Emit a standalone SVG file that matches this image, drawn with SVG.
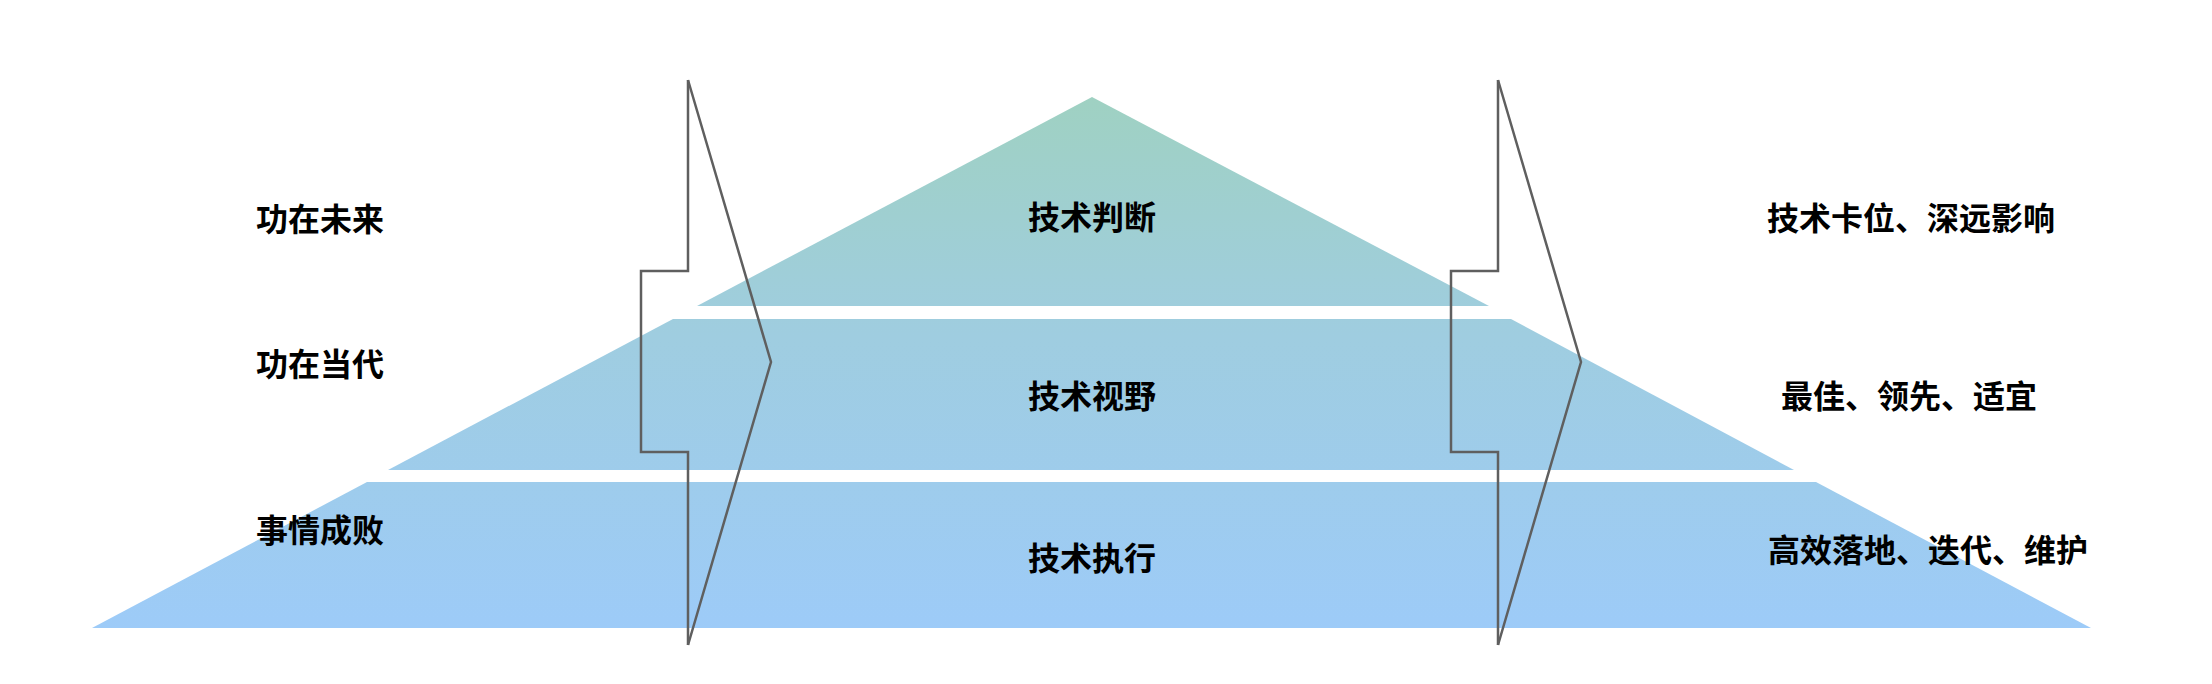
<svg xmlns="http://www.w3.org/2000/svg" width="2212" height="684" viewBox="0 0 2212 684">
<defs>
<linearGradient id="pg" gradientUnits="userSpaceOnUse" x1="0" y1="97" x2="0" y2="628">
<stop offset="0" stop-color="#9fd1c2"/>
<stop offset="0.45" stop-color="#9fcde0"/>
<stop offset="1" stop-color="#9dcbf8"/>
</linearGradient>
<style>
.lvl{fill:url(#pg);}
.t{font-family:"Noto Sans CJK SC","Noto Sans",sans-serif;font-weight:bold;font-size:32px;fill:#000;text-anchor:middle;}
.br{fill:none;stroke:#5f5f5f;stroke-width:2.5;stroke-linejoin:miter;}
</style>
</defs>
<rect width="2212" height="684" fill="#ffffff"/>
<g id="level-top">
<polygon class="lvl" points="1092,97 1489,306 697,306"/>
<text class="t" x="1092" y="229">技术判断</text>
</g>
<g id="level-middle">
<polygon class="lvl" points="673,319 1511,319 1794,470 388,470"/>
<text class="t" x="1092" y="408">技术视野</text>
</g>
<g id="level-bottom">
<polygon class="lvl" points="367,482 1816,482 2091,628 92,628"/>
<text class="t" x="1092" y="570">技术执行</text>
</g>
<g id="left-labels">
<text class="t" x="320" y="231">功在未来</text>
<text class="t" x="320" y="376">功在当代</text>
<text class="t" x="320" y="542">事情成败</text>
</g>
<g id="right-labels">
<text class="t" x="1911" y="230">技术卡位、深远影响</text>
<text class="t" x="1909" y="408">最佳、领先、适宜</text>
<text class="t" x="1928" y="562">高效落地、迭代、维护</text>
</g>
<g id="connectors">
<polyline class="br" points="688,80 688,271 641,271 641,452 688,452 688,645"/>
<polyline class="br" points="688,80 771,362 688,645"/>
<polyline class="br" points="1498,80 1498,271 1451,271 1451,452 1498,452 1498,645"/>
<polyline class="br" points="1498,80 1581,362 1498,645"/>
</g>
</svg>
